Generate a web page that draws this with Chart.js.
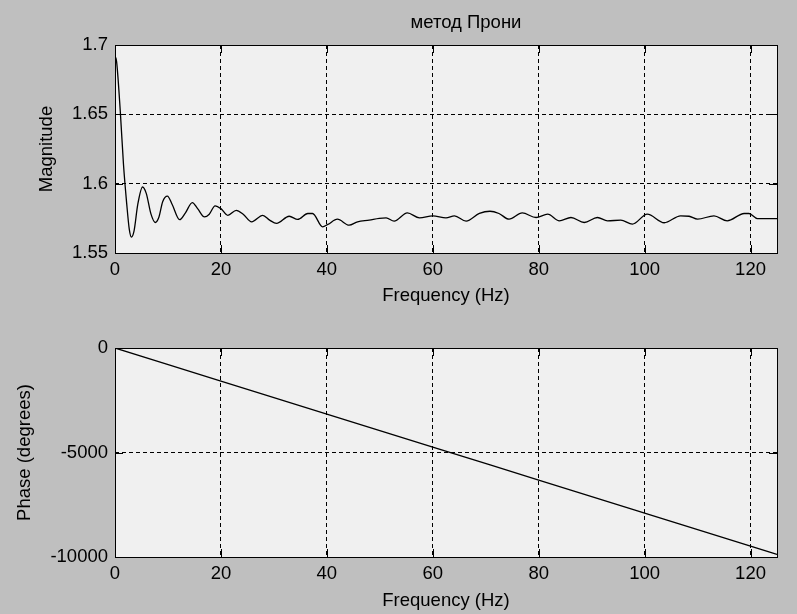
<!DOCTYPE html>
<html>
<head>
<meta charset="utf-8">
<script src="https://cdn.jsdelivr.net/npm/chart.js@4.4.0/dist/chart.umd.min.js"></script>
<style>
  html, body { margin: 0; padding: 0; background: #bfbfbf; }
  body { width: 797px; height: 614px; position: relative; overflow: hidden; }
  .box { position: absolute; left: 0; width: 797px; height: 307px; }
</style>
</head>
<body>
<div class="box" style="top:0"><canvas id="mag" width="797" height="307"></canvas></div>
<div class="box" style="top:307px"><canvas id="phase" width="797" height="307"></canvas></div>
<script>
// magnitude response
const magFreq = [0, 0.3, 1.0, 1.6, 2.2, 2.7, 3.1, 3.6, 4.3, 5.2, 5.9, 6.8, 7.6, 8.3, 9.0, 9.9, 10.8, 12.2, 13.3, 14.6,
  15.6, 16.9, 17.8, 18.9, 20.0, 21.3, 22.9, 24.2, 25.8, 27.9, 29.2, 30.5, 32.9, 34.5, 36.4, 37.3, 39.2, 40.2, 42.0, 44.2,
  45.8, 48.0, 49.9, 51.2, 52.7, 55.2, 57.5, 60.0, 62.5, 64.1, 66.3, 68.8, 70.8, 72.5, 74.4, 76.9, 79.5, 81.7, 83.9, 86.1,
  88.6, 91.1, 93.0, 95.5, 97.7, 100.5, 103.7, 106.8, 108.4, 110.0, 113.1, 115.6, 118.8, 119.7, 121.3, 125];
const magValue = [1.692, 1.688, 1.652, 1.614, 1.586, 1.567, 1.5615, 1.566, 1.585, 1.5976, 1.593, 1.578, 1.572, 1.576, 1.587, 1.591, 1.585, 1.574, 1.579, 1.5864,
  1.582, 1.576, 1.578, 1.584, 1.582, 1.5772, 1.5808, 1.578, 1.5725, 1.5772, 1.5737, 1.5713, 1.5765, 1.5742, 1.5785, 1.5785, 1.5689, 1.5706, 1.5744, 1.5701,
  1.5725, 1.5737, 1.575, 1.5753, 1.573, 1.5789, 1.5753, 1.5768, 1.5753, 1.5768, 1.573, 1.5785, 1.5801, 1.5785, 1.5744, 1.5789, 1.5756, 1.578, 1.5732, 1.5756,
  1.572, 1.5756, 1.5732, 1.5737, 1.5708, 1.578, 1.5718, 1.5768, 1.5765, 1.5744, 1.5768, 1.5732, 1.5785, 1.5785, 1.5748, 1.5748];

// phase response (straight line)
const phaseFreq = [0, 20, 40, 60, 80, 100, 120, 125];
const phaseDeg = [0, -1580, -3160, -4740, -6320, -7900, -9480, -9880];

const freqTicks = [0, 20, 40, 60, 80, 100, 120];
const magTicks = [1.55, 1.6, 1.65, 1.7];
const phaseTicks = [-10000, -5000, 0];

const FONT = '"Liberation Sans", Arial, Helvetica, sans-serif';
Chart.defaults.font.family = FONT;
Chart.defaults.font.size = 18.5;
Chart.defaults.color = '#000';

// gray plot box, black frame and inward tick marks like matlab
const axesBox = {
  id: 'axesBox',
  beforeDraw(chart) {
    const {ctx, chartArea: a} = chart;
    ctx.save();
    ctx.fillStyle = '#f0f0f0';
    ctx.fillRect(a.left, a.top, a.right - a.left, a.bottom - a.top);
    ctx.restore();
  },
  afterDraw(chart) {
    const {ctx, chartArea: a, scales} = chart;
    ctx.save();
    ctx.strokeStyle = '#000';
    ctx.lineWidth = 1;
    ctx.beginPath();
    scales.x.ticks.forEach(t => {
      const px = Math.round(scales.x.getPixelForValue(t.value)) + 0.5;
      ctx.moveTo(px, a.bottom); ctx.lineTo(px, a.bottom - 8);
      ctx.moveTo(px, a.top); ctx.lineTo(px, a.top + 8);
    });
    scales.y.ticks.forEach(t => {
      const py = Math.round(scales.y.getPixelForValue(t.value)) + 0.5;
      ctx.moveTo(a.left, py); ctx.lineTo(a.left + 8, py);
      ctx.moveTo(a.right, py); ctx.lineTo(a.right - 8, py);
    });
    ctx.stroke();
    ctx.strokeRect(Math.round(a.left) + 0.5, Math.round(a.top) + 0.5, Math.round(a.right - a.left), Math.round(a.bottom - a.top));
    if (chart.options.plugins.axesBox && chart.options.plugins.axesBox.title) {
      ctx.fillStyle = '#000';
      ctx.font = '18.5px ' + FONT;
      ctx.textAlign = 'center';
      ctx.textBaseline = 'alphabetic';
      ctx.fillText(chart.options.plugins.axesBox.title, 466, 28);
    }
    ctx.restore();
  }
};

let makeChart = (idName, xs, ys, yMin, yMax, yTicks, yTitle, opts) => {
  const points = xs.map((x, i) => ({x: x, y: ys[i]}));
  return new Chart(document.getElementById(idName), {
    type: 'line',
    data: {
      datasets: [{
        data: points,
        borderColor: '#000',
        borderWidth: 1.3,
        pointRadius: 0,
        cubicInterpolationMode: 'monotone',
        fill: false
      }]
    },
    options: {
      responsive: false,
      animation: false,
      layout: {padding: {left: 0, right: 20, top: opts.top, bottom: 0}},
      plugins: {
        legend: {display: false},
        tooltip: {enabled: false},
        axesBox: {title: opts.title}
      },
      scales: {
        x: {
          type: 'linear',
          min: 0,
          max: 125,
          afterBuildTicks: s => { s.ticks = freqTicks.map(v => ({value: v})); },
          afterFit: s => { s.height = opts.xHeight; },
          grid: {color: '#000', lineWidth: 1, drawTicks: false},
          border: {display: false, dash: [4, 3]},
          ticks: {padding: opts.xPad, maxRotation: 0, callback: v => String(v)},
          title: {display: true, text: 'Frequency (Hz)', padding: {top: 0, bottom: opts.xTitlePad}}
        },
        y: {
          min: yMin,
          max: yMax,
          afterBuildTicks: s => { s.ticks = yTicks.map(v => ({value: v})); },
          afterFit: s => { s.width = 115; },
          grid: {color: '#000', lineWidth: 1, drawTicks: false},
          border: {display: false, dash: [4, 3]},
          ticks: {padding: 7, callback: v => String(+Number(v).toFixed(2))},
          title: {display: true, text: yTitle, padding: {top: opts.yTitlePad, bottom: 0}}
        }
      }
    },
    plugins: [axesBox]
  });
};

makeChart('mag', magFreq, magValue, 1.55, 1.7, magTicks, 'Magnitude',
  {top: 45, xHeight: 54, xPad: 6, xTitlePad: 0, yTitlePad: 36, title: 'метод Прони'});
makeChart('phase', phaseFreq, phaseDeg, -10000, 0, phaseTicks, 'Phase (degrees)',
  {top: 41, xHeight: 57, xPad: 6, xTitlePad: 2, yTitlePad: 14, title: null});
</script>
</body>
</html>
